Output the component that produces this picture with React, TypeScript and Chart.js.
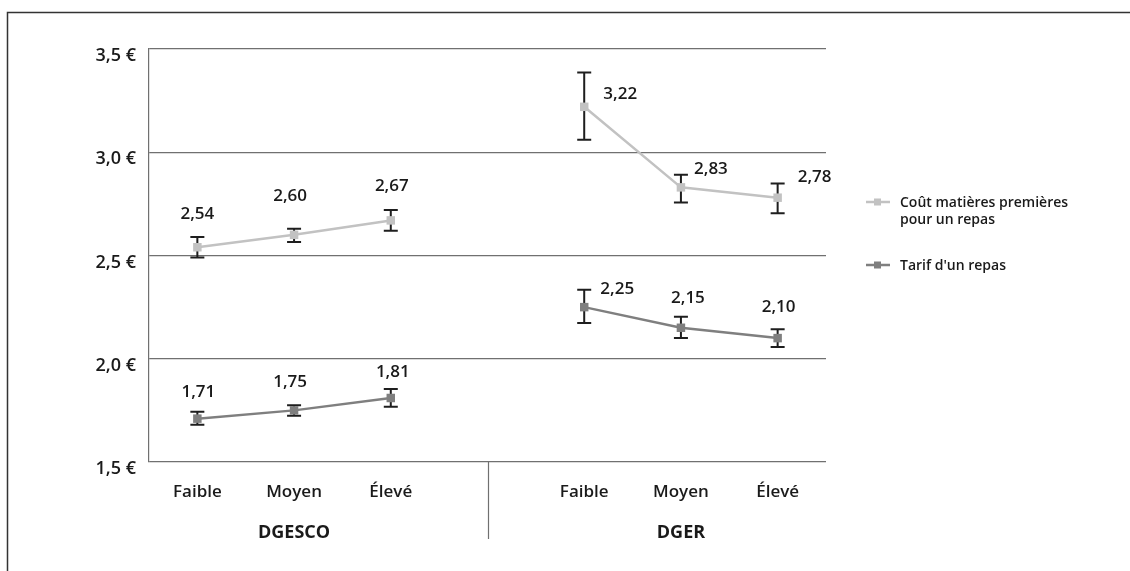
import React, { useEffect, useRef } from 'react';
import { Chart, registerables } from 'chart.js';

Chart.register(...registerables);

// ---- data ----
const categories = ['Faible', 'Moyen', 'Élevé'];
const groups = ['DGESCO', 'DGER'];
const legendCost = ['Coût matières premières', 'pour un repas'];
const legendTarif = ["Tarif d'un repas"];

const costDGESCO = [2.54, 2.6, 2.67];
const costDGER = [3.22, 2.83, 2.78];
const tarifDGESCO = [1.71, 1.75, 1.81];
const tarifDGER = [2.25, 2.15, 2.1];

const costLowDGESCO = [2.49, 2.565, 2.62];
const costHighDGESCO = [2.59, 2.63, 2.72];
const costLowDGER = [3.06, 2.757, 2.704];
const costHighDGER = [3.386, 2.891, 2.849];
const tarifLowDGESCO = [1.68, 1.724, 1.767];
const tarifHighDGESCO = [1.743, 1.775, 1.853];
const tarifLowDGER = [2.173, 2.1, 2.057];
const tarifHighDGER = [2.334, 2.203, 2.143];

const yTicks = [1.5, 2.0, 2.5, 3.0, 3.5];

// label placement offsets (style), per plotted point
const costLabelOffsets = [[0, -33], [-4, -39], [1, -34], null, [36, -13], [30, -18], [37, -21]];
const tarifLabelOffsets = [[1, -26], [-4, -28], [2, -26], null, [33, -18], [7, -30], [1, -31]];

// ---- derived tables ----
const labels = [...categories, '', ...categories];
const join = (a: number[], b: number[]) => [...a, null, ...b];
const costData = join(costDGESCO, costDGER);
const tarifData = join(tarifDGESCO, tarifDGER);
const costLow = join(costLowDGESCO, costLowDGER);
const costHigh = join(costHighDGESCO, costHighDGER);
const tarifLow = join(tarifLowDGESCO, tarifLowDGER);
const tarifHigh = join(tarifHighDGESCO, tarifHighDGER);

const errors = [
  { low: costLow, high: costHigh },
  { low: tarifLow, high: tarifHigh },
];
const offsets = [costLabelOffsets, tarifLabelOffsets];
const legendItems = [legendCost, legendTarif];

const FONT = "'Open Sans', 'DejaVu Sans', sans-serif";
const TEXT = '#1a1a1a';
const fmt = (v: number, d: number) => v.toFixed(d).replace('.', ',');

const overlay = {
  id: 'overlay',
  beforeDraw(chart: any) {
    const ctx = chart.ctx;
    ctx.save();
    ctx.strokeStyle = '#333333';
    ctx.lineWidth = 1.5;
    ctx.beginPath();
    ctx.moveTo(7.5, chart.height);
    ctx.lineTo(7.5, 12.5);
    ctx.lineTo(chart.width, 12.5);
    ctx.stroke();
    ctx.restore();
  },
  beforeDatasetsDraw(chart: any) {
    const ctx = chart.ctx;
    const xs = chart.scales.x;
    const ys = chart.scales.y;
    ctx.save();
    ctx.strokeStyle = '#1e1e1e';
    ctx.lineWidth = 2;
    errors.forEach((e) => {
      e.low.forEach((lo: any, i: number) => {
        const hi = e.high[i];
        if (lo == null || hi == null) return;
        const x = xs.getPixelForValue(i);
        const y1 = ys.getPixelForValue(lo);
        const y2 = ys.getPixelForValue(hi);
        ctx.beginPath();
        ctx.moveTo(x, y1);
        ctx.lineTo(x, y2);
        ctx.moveTo(x - 7, y1);
        ctx.lineTo(x + 7, y1);
        ctx.moveTo(x - 7, y2);
        ctx.lineTo(x + 7, y2);
        ctx.stroke();
      });
    });
    ctx.restore();
  },
  afterDatasetsDraw(chart: any) {
    const ctx = chart.ctx;
    const xs = chart.scales.x;
    const ys = chart.scales.y;
    ctx.save();
    ctx.fillStyle = TEXT;
    ctx.font = `600 17px ${FONT}`;
    ctx.textAlign = 'center';
    ctx.textBaseline = 'middle';
    chart.data.datasets.forEach((ds: any, d: number) => {
      ds.data.forEach((v: any, i: number) => {
        if (v == null) return;
        const off = offsets[d][i] || [0, -30];
        ctx.fillText(fmt(v, 2), xs.getPixelForValue(i) + off[0], ys.getPixelForValue(v) + off[1]);
      });
    });
    ctx.restore();
  },
  afterDraw(chart: any) {
    const ctx = chart.ctx;
    const xs = chart.scales.x;
    const area = chart.chartArea;
    ctx.save();
    // separator
    const sx = Math.round(xs.getPixelForValue(3)) + 0.5;
    ctx.strokeStyle = '#707070';
    ctx.lineWidth = 1.2;
    ctx.beginPath();
    ctx.moveTo(sx, area.bottom);
    ctx.lineTo(sx, area.bottom + 77);
    ctx.stroke();
    // group labels
    ctx.fillStyle = TEXT;
    ctx.font = `700 18px ${FONT}`;
    ctx.textAlign = 'center';
    ctx.textBaseline = 'middle';
    groups.forEach((g, k) => {
      ctx.fillText(g, xs.getPixelForValue(k * 4 + 1), area.bottom + 71);
    });
    // legend
    const lx = area.right + 40;
    const rows = [202, 265];
    ctx.font = `600 14px ${FONT}`;
    ctx.textAlign = 'left';
    chart.data.datasets.forEach((ds: any, d: number) => {
      const y = rows[d];
      ctx.strokeStyle = ds.borderColor;
      ctx.lineWidth = 2.5;
      ctx.beginPath();
      ctx.moveTo(lx, y);
      ctx.lineTo(lx + 24, y);
      ctx.stroke();
      ctx.fillStyle = ds.backgroundColor;
      ctx.fillRect(lx + 8, y - 3.5, 7, 7);
      ctx.fillStyle = TEXT;
      legendItems[d].forEach((t, j) => {
        ctx.fillText(t, lx + 34, y + 1 + j * 17);
      });
    });
    ctx.restore();
  },
};

export default function App() {
  const ref = useRef<HTMLCanvasElement | null>(null);
  useEffect(() => {
    if (!ref.current) return;
    const chart = new Chart(ref.current, {
      type: 'line',
      data: {
        labels,
        datasets: [
          {
            label: legendCost.join(' '),
            data: costData,
            borderColor: '#c2c2c2',
            backgroundColor: '#c2c2c2',
            borderWidth: 2.5,
            pointStyle: 'rect',
            pointRadius: 6,
            pointBorderWidth: 0,
            spanGaps: false,
            tension: 0,
          },
          {
            label: legendTarif[0],
            data: tarifData,
            borderColor: '#7f7f7f',
            backgroundColor: '#7f7f7f',
            borderWidth: 2.5,
            pointStyle: 'rect',
            pointRadius: 6,
            pointBorderWidth: 0,
            spanGaps: false,
            tension: 0,
          },
        ],
      },
      options: {
        animation: false,
        responsive: false,
        maintainAspectRatio: false,
        layout: { padding: { left: 0, top: 49, right: 304, bottom: 0 } },
        plugins: { legend: { display: false }, tooltip: { enabled: false } },
        scales: {
          x: {
            type: 'category',
            offset: true,
            grid: { display: false, drawTicks: false },
            border: { display: false },
            ticks: {
              padding: 20,
              color: TEXT,
              font: { family: FONT, size: 17, weight: '600' },
              maxRotation: 0,
              autoSkip: false,
            },
            afterFit: (s: any) => {
              s.height = 109;
            },
          },
          y: {
            min: 1.5,
            max: 3.5,
            afterBuildTicks: (s: any) => {
              s.ticks = yTicks.map((v) => ({ value: v }));
            },
            grid: { color: '#707070', lineWidth: 1.2, drawTicks: false },
            border: { display: true, color: '#707070', width: 1.2 },
            ticks: {
              padding: 13,
              labelOffset: 7,
              color: TEXT,
              font: { family: FONT, size: 18, weight: '600' },
              callback: (v: any) => fmt(Number(v), 1) + ' €',
            },
            afterFit: (s: any) => {
              s.width = 149;
            },
          },
        },
      },
      plugins: [overlay],
    });
    return () => chart.destroy();
  }, []);
  return (
    <div style={{ position: 'absolute', left: 0, top: 0, width: 1130, height: 571 }}>
      <canvas ref={ref} width={1130} height={571} style={{ display: 'block', width: 1130, height: 571 }} />
    </div>
  );
}
